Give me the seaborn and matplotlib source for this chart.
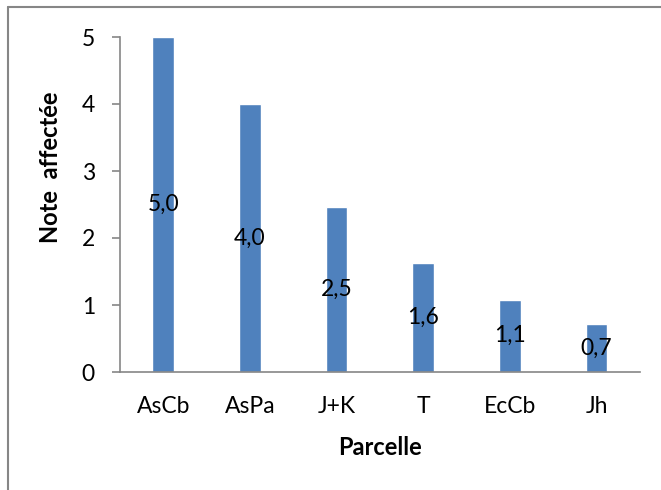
import matplotlib
matplotlib.use("Agg")
import matplotlib.pyplot as plt
from matplotlib.lines import Line2D
import seaborn as sns
import pandas as pd

# Scores per plot
parcelles = ["AsCb", "AsPa", "J+K", "T", "EcCb", "Jh"]
notes = [5.0, 4.0, 2.46, 1.63, 1.08, 0.72]
y_ticks = [0, 1, 2, 3, 4, 5]

BAR = "#4F81BD"
GREY = "#868686"
FS = 16.5

sns.set_theme(style="white")
plt.rcParams["font.family"] = ["Lato", "DejaVu Sans"]

W, H = 661, 490
fig = plt.figure(figsize=(W / 100, H / 100), dpi=100)
fig.patch.set_edgecolor("none")
fig.patch.set_linewidth(0)
ax = fig.add_axes([120 / W, 1 - 372 / H, 520 / W, 335 / H])

df = pd.DataFrame({"Parcelle": parcelles, "Note": notes})
sns.barplot(data=df, x="Parcelle", y="Note", color=BAR, saturation=1,
            width=0.25, ax=ax)

# value labels in the middle of each bar
for i, v in enumerate(notes):
    ax.text(i, v / 2, f"{v:.1f}".replace(".", ","), ha="center", va="center",
            fontsize=FS, color="black")

ax.set_ylim(0, 5)
ax.set_xlim(-0.5, len(parcelles) - 0.5)
ax.set_yticks(y_ticks)
ax.set_yticklabels([str(t) for t in y_ticks])

for side in ("top", "right"):
    ax.spines[side].set_visible(False)
for side in ("left", "bottom"):
    ax.spines[side].set_color(GREY)
    ax.spines[side].set_linewidth(1.2)

ax.tick_params(axis="y", direction="out", length=6, width=1.2, color=GREY,
               pad=12, labelsize=FS, labelcolor="black", left=True)
ax.tick_params(axis="x", length=0, pad=17, labelsize=FS, labelcolor="black")

ax.set_xlabel("Parcelle", fontsize=17, fontweight="bold", color="black")
ax.set_ylabel("Note  affectée", fontsize=17, fontweight="bold", color="black")
ax.xaxis.set_label_coords(0.5, -(436 - 372) / 335)
ax.yaxis.set_label_coords(-(120 - 62) / 520, (372 - 167) / 335)

# outer chart frame (top and left edges)
fig.add_artist(Line2D([8 / W, 8 / W], [0, 1 - 7 / H], transform=fig.transFigure,
                      color=GREY, linewidth=1.5))
fig.add_artist(Line2D([8 / W, 1], [1 - 7 / H, 1 - 7 / H], transform=fig.transFigure,
                      color=GREY, linewidth=1.5))

fig.savefig("out.png", dpi=100, facecolor="white", edgecolor="none")
